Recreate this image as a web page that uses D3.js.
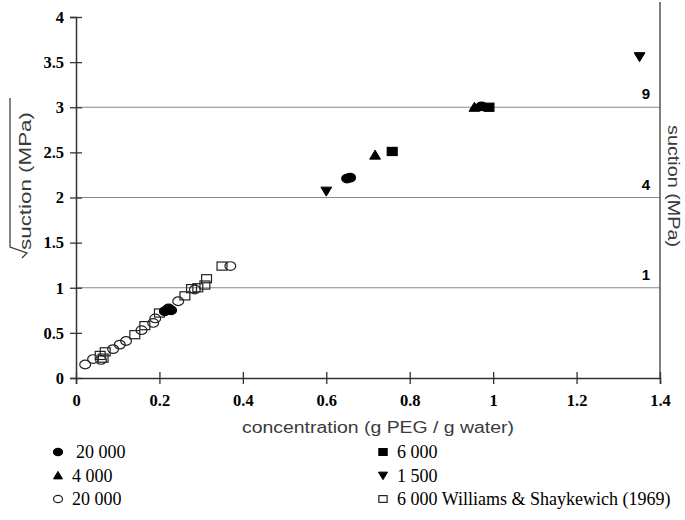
<!DOCTYPE html>
<html>
<head>
<meta charset="UTF-8">
<script src="https://d3js.org/d3.v7.min.js"></script>
<style>
  body { margin: 0; background: #fff; }
  .tk text { font-family: "Liberation Serif", serif; font-weight: bold; font-size: 16.5px; }
  .ttl { font-family: "Liberation Sans", Arial, sans-serif; font-size: 16px; fill: #3a3a3a; }
  .lg { font-family: "Liberation Serif", serif; font-size: 18px; }
</style>
</head>
<body>
<svg id="chart" width="685" height="520"></svg>
<script>
// data: [concentration, sqrt suction]
const filledCircle20000 = [[0.213, 0.74], [0.222, 0.77], [0.228, 0.75], [0.65, 2.21], [0.657, 2.22], [0.972, 3.01]];
const triangle4000 = [[0.717, 2.47], [0.955, 3.0]];
const openCircle20000 = [[0.022, 0.15], [0.041, 0.21], [0.06, 0.2], [0.089, 0.32], [0.105, 0.37], [0.12, 0.41],
  [0.157, 0.53], [0.185, 0.61], [0.19, 0.66], [0.245, 0.85], [0.285, 0.98], [0.37, 1.24]];
const square6000 = [[0.758, 2.51], [0.99, 3.0]];
const triDown1500 = [[0.60, 2.07], [1.351, 3.56]];
const openSquareWS = [[0.058, 0.25], [0.065, 0.22], [0.07, 0.29], [0.141, 0.48], [0.165, 0.58], [0.2, 0.72],
  [0.261, 0.91], [0.277, 0.99], [0.292, 1.0], [0.309, 1.03], [0.313, 1.1], [0.35, 1.24]];

const xTicks = [0, 0.2, 0.4, 0.6, 0.8, 1, 1.2, 1.4];
const yTicks = [0, 0.5, 1, 1.5, 2, 2.5, 3, 3.5, 4];
const suctionLines = [1, 4, 9];   // suction (MPa) on right side, drawn at sqrt

const series = [
  { label: "20 000", sym: "circle", fill: true, pts: filledCircle20000 },
  { label: "6 000", sym: "square", fill: true, pts: square6000 },
  { label: "4 000", sym: "triangle", fill: true, pts: triangle4000 },
  { label: "1 500", sym: "down", fill: true, pts: triDown1500 },
  { label: "20 000", sym: "circle", fill: false, pts: openCircle20000 },
  { label: "6 000 Williams & Shaykewich (1969)", sym: "square", fill: false, pts: openSquareWS }
];

const svg = d3.select("#chart");
const x = d3.scaleLinear().domain([0, 1.4]).range([76, 660]);
const y = d3.scaleLinear().domain([0, 4]).range([378, 17]);

// gridlines at suction 1, 4, 9
svg.selectAll(".grid").data(suctionLines).enter().append("line")
  .attr("x1", x(0)).attr("x2", x(1.4))
  .attr("y1", d => y(Math.sqrt(d))).attr("y2", d => y(Math.sqrt(d)))
  .attr("stroke", "#888").attr("stroke-width", 1.2);

svg.selectAll(".rl").data(suctionLines).enter().append("text")
  .attr("x", 650).attr("y", d => y(Math.sqrt(d)) - 8)
  .attr("text-anchor", "end")
  .style("font-family", "Liberation Sans, Arial, sans-serif").style("font-weight", "bold").style("font-size", "15px")
  .text(d => d);

// right axis line
svg.append("line").attr("x1", x(1.4)).attr("x2", x(1.4)).attr("y1", 2).attr("y2", y(0))
  .attr("stroke", "#555").attr("stroke-width", 1.5);

// axes
const gx = svg.append("g").attr("class", "tk")
  .attr("transform", `translate(0,${y(0)})`)
  .call(d3.axisBottom(x).tickValues(xTicks).tickFormat(d3.format("")).tickSize(6).tickPadding(10));
gx.selectAll(".tick line").attr("y1", -6);
const gy = svg.append("g").attr("class", "tk")
  .attr("transform", `translate(${x(0)},0)`)
  .call(d3.axisLeft(y).tickValues(yTicks).tickFormat(d3.format("")).tickSize(6).tickPadding(6));
gy.selectAll(".tick line").attr("x1", 6);
svg.selectAll(".tk .domain").attr("stroke", "#333").attr("stroke-width", 1.5);
svg.selectAll(".tk .tick line").attr("stroke", "#333").attr("stroke-width", 1.3);

// titles
svg.append("text").attr("class", "ttl").attr("x", 378).attr("y", 433)
  .attr("text-anchor", "middle").attr("textLength", 272).attr("lengthAdjust", "spacingAndGlyphs")
  .text("concentration (g PEG / g water)");
svg.append("text").attr("class", "ttl").attr("transform", "translate(31,250) rotate(-90)")
  .attr("textLength", 138).attr("lengthAdjust", "spacingAndGlyphs")
  .text("suction (MPa)");
svg.append("path").attr("d", "M10,98 L10,247 L27,253 L22,258")
  .attr("fill", "none").attr("stroke", "#333").attr("stroke-width", 1.2);
svg.append("text").attr("class", "ttl").attr("transform", "translate(668,125) rotate(90)")
  .attr("textLength", 122).attr("lengthAdjust", "spacingAndGlyphs")
  .text("suction (MPa)");

// markers
function drawSym(g, sym, fill, cx, cy, s) {
  const st = fill ? "#000" : "#222";
  const f = fill ? "#000" : "none";
  if (sym === "circle") {
    g.append("ellipse").attr("cx", cx).attr("cy", cy).attr("rx", s * 0.6).attr("ry", s * 0.48)
      .attr("fill", f).attr("stroke", st).attr("stroke-width", 1.2);
  } else if (sym === "square") {
    g.append("rect").attr("x", cx - s * 0.55).attr("y", cy - s * 0.45).attr("width", s * 1.1).attr("height", s * 0.9)
      .attr("fill", f).attr("stroke", st).attr("stroke-width", 1.2);
  } else if (sym === "triangle") {
    g.append("path").attr("d", `M${cx - s * 0.6},${cy + s * 0.45} L${cx},${cy - s * 0.55} L${cx + s * 0.6},${cy + s * 0.45} Z`)
      .attr("fill", f).attr("stroke", st);
  } else {
    g.append("path").attr("d", `M${cx - s * 0.6},${cy - s * 0.45} L${cx},${cy + s * 0.55} L${cx + s * 0.6},${cy - s * 0.45} Z`)
      .attr("fill", f).attr("stroke", st);
  }
}

const pg = svg.append("g");
series.filter(s => !s.fill).concat(series.filter(s => s.fill)).forEach(s => {
  s.pts.forEach(p => drawSym(pg, s.sym, s.fill, x(p[0]), y(p[1]), 9));
});

// legend
const lg = svg.append("g");
series.forEach((s, i) => {
  const lx = i % 2 === 0 ? 58 : 383;
  const ly = 452 + Math.floor(i / 2) * 23.5;
  drawSym(lg, s.sym, s.fill, lx, ly, 7.5);
  lg.append("text").attr("class", "lg").attr("x", lx + (i % 2 === 0 && i === 0 ? 18 : 14)).attr("y", ly + 6).text(s.label);
});
</script>
</body>
</html>
